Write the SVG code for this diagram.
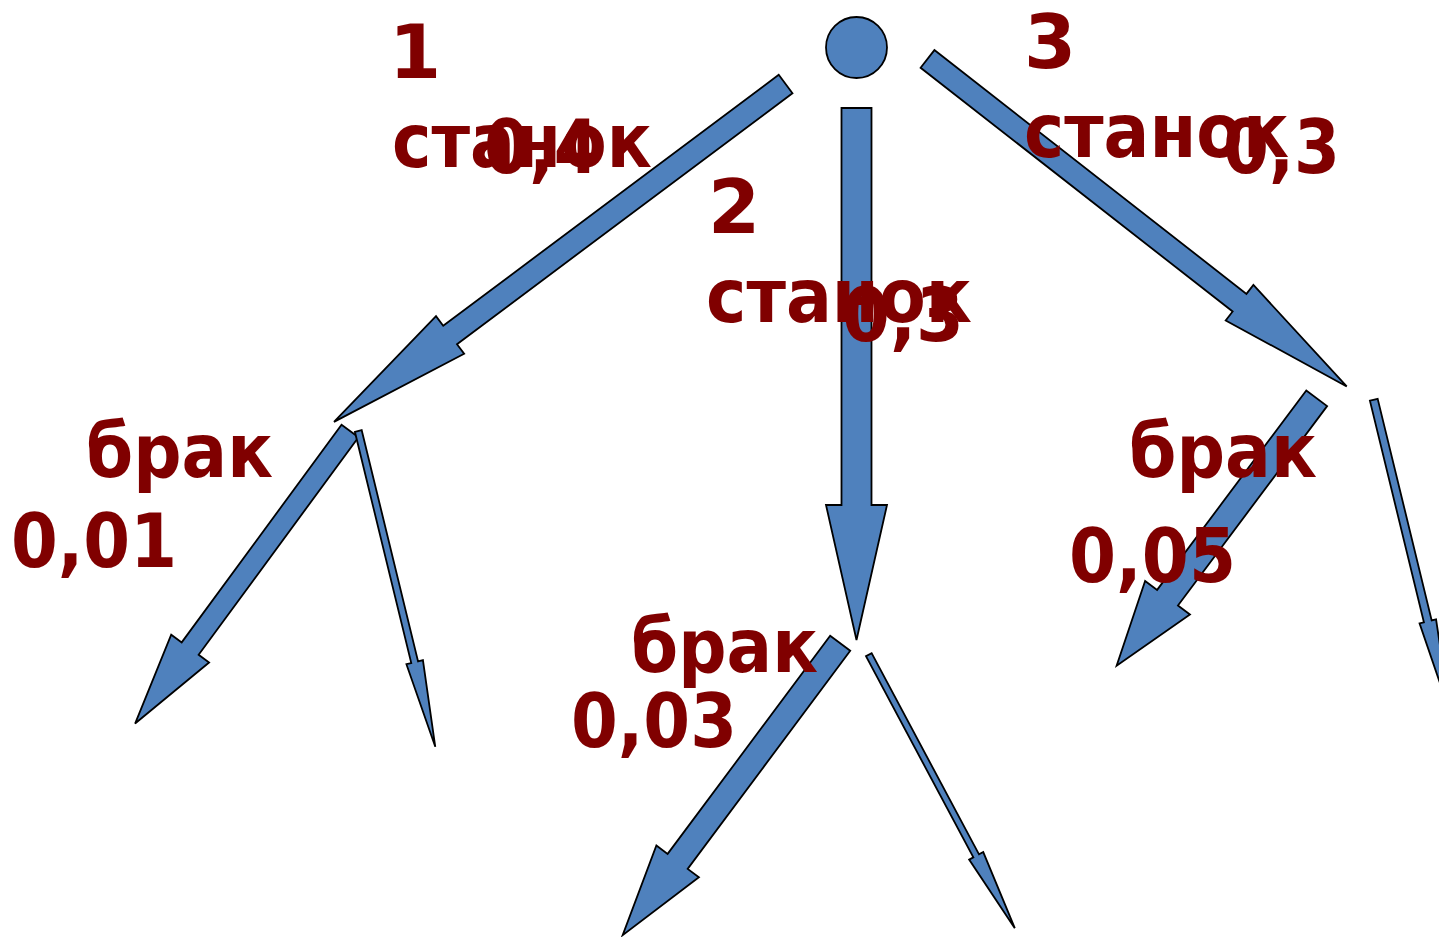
<svg xmlns="http://www.w3.org/2000/svg" width="1439" height="937" viewBox="0 0 1439 937">
<style>
.ar{fill:#4f81bd;stroke:#000;stroke-width:1.8;stroke-linejoin:miter}
.t{font-family:"DejaVu Sans","Verdana",sans-serif;font-weight:bold;font-size:75px;fill:#800000}
</style>
<rect width="1439" height="937" fill="#fff"/>
<g id="root">
<circle class="ar" cx="856.5" cy="47.5" r="30.5"/>
</g>
<g id="connectors">
<polygon id="a1" class="ar" transform="translate(785.6,84) rotate(143.2)" points="0,-11.5 419,-11.5 419,-23.5 564,0 419,23.5 419,11.5 0,11.5"/>
<polygon id="a2" class="ar" points="841.5,108 871.5,108 871.5,505 887,505 856.5,640 826,505 841.5,505"/>
<polygon id="a3" class="ar" transform="translate(927.5,58.9) rotate(38)" points="0,-11.2 396,-11.2 396,-22.5 532,0 396,22.5 396,11.2 0,11.2"/>
<polygon id="a1a" class="ar" transform="translate(350,431) rotate(126.3)" points="0,-10.5 270,-10.5 270,-23.5 363,0 270,23.5 270,10.5 0,10.5"/>
<polygon id="a1b" class="ar" transform="translate(358.3,431) rotate(76.3)" points="0,-3.5 238,-3.5 238,-8.5 325,0 238,8.5 238,3.5 0,3.5"/>
<polygon id="a2a" class="ar" transform="translate(840.2,643.3) rotate(126.7)" points="0,-12.5 272,-12.5 272,-26.5 364,0 272,26.5 272,12.5 0,12.5"/>
<polygon id="a2b" class="ar" transform="translate(868.8,654.7) rotate(61.9)" points="0,-3.2 228,-3.2 228,-8 310,0 228,8 228,3.2 0,3.2"/>
<polygon id="a3a" class="ar" transform="translate(1316.7,398.3) rotate(126.8)" points="0,-13 249,-13 249,-28 334,0 249,28 249,13 0,13"/>
<polygon id="a3b" class="ar" transform="translate(1373.8,399.8) rotate(76.3)" points="0,-4 228,-4 228,-8.5 322,0 228,8.5 228,4 0,4"/>
</g>
<g id="labels">
<text class="t" x="415" y="78" text-anchor="middle">1</text>
<text class="t" x="392" y="167" textLength="260" lengthAdjust="spacingAndGlyphs">станок</text>
<text class="t" x="484" y="173" textLength="115" lengthAdjust="spacingAndGlyphs">0,4</text>
<text class="t" x="734" y="233" text-anchor="middle">2</text>
<text class="t" x="706" y="322" textLength="266" lengthAdjust="spacingAndGlyphs">станок</text>
<text class="t" x="842" y="341" textLength="122" lengthAdjust="spacingAndGlyphs">0,3</text>
<text class="t" x="1050" y="68" text-anchor="middle">3</text>
<text class="t" x="1024" y="157" textLength="265" lengthAdjust="spacingAndGlyphs">станок</text>
<text class="t" x="1223" y="173" textLength="117" lengthAdjust="spacingAndGlyphs">0,3</text>
<text class="t" x="86" y="477" textLength="187" lengthAdjust="spacingAndGlyphs">брак</text>
<text class="t" x="11" y="567" textLength="166" lengthAdjust="spacingAndGlyphs">0,01</text>
<text class="t" x="631" y="672" textLength="187" lengthAdjust="spacingAndGlyphs">брак</text>
<text class="t" x="571" y="747" textLength="166" lengthAdjust="spacingAndGlyphs">0,03</text>
<text class="t" x="1129" y="477" textLength="188" lengthAdjust="spacingAndGlyphs">брак</text>
<text class="t" x="1069" y="582" textLength="167" lengthAdjust="spacingAndGlyphs">0,05</text>
</g>
</svg>
